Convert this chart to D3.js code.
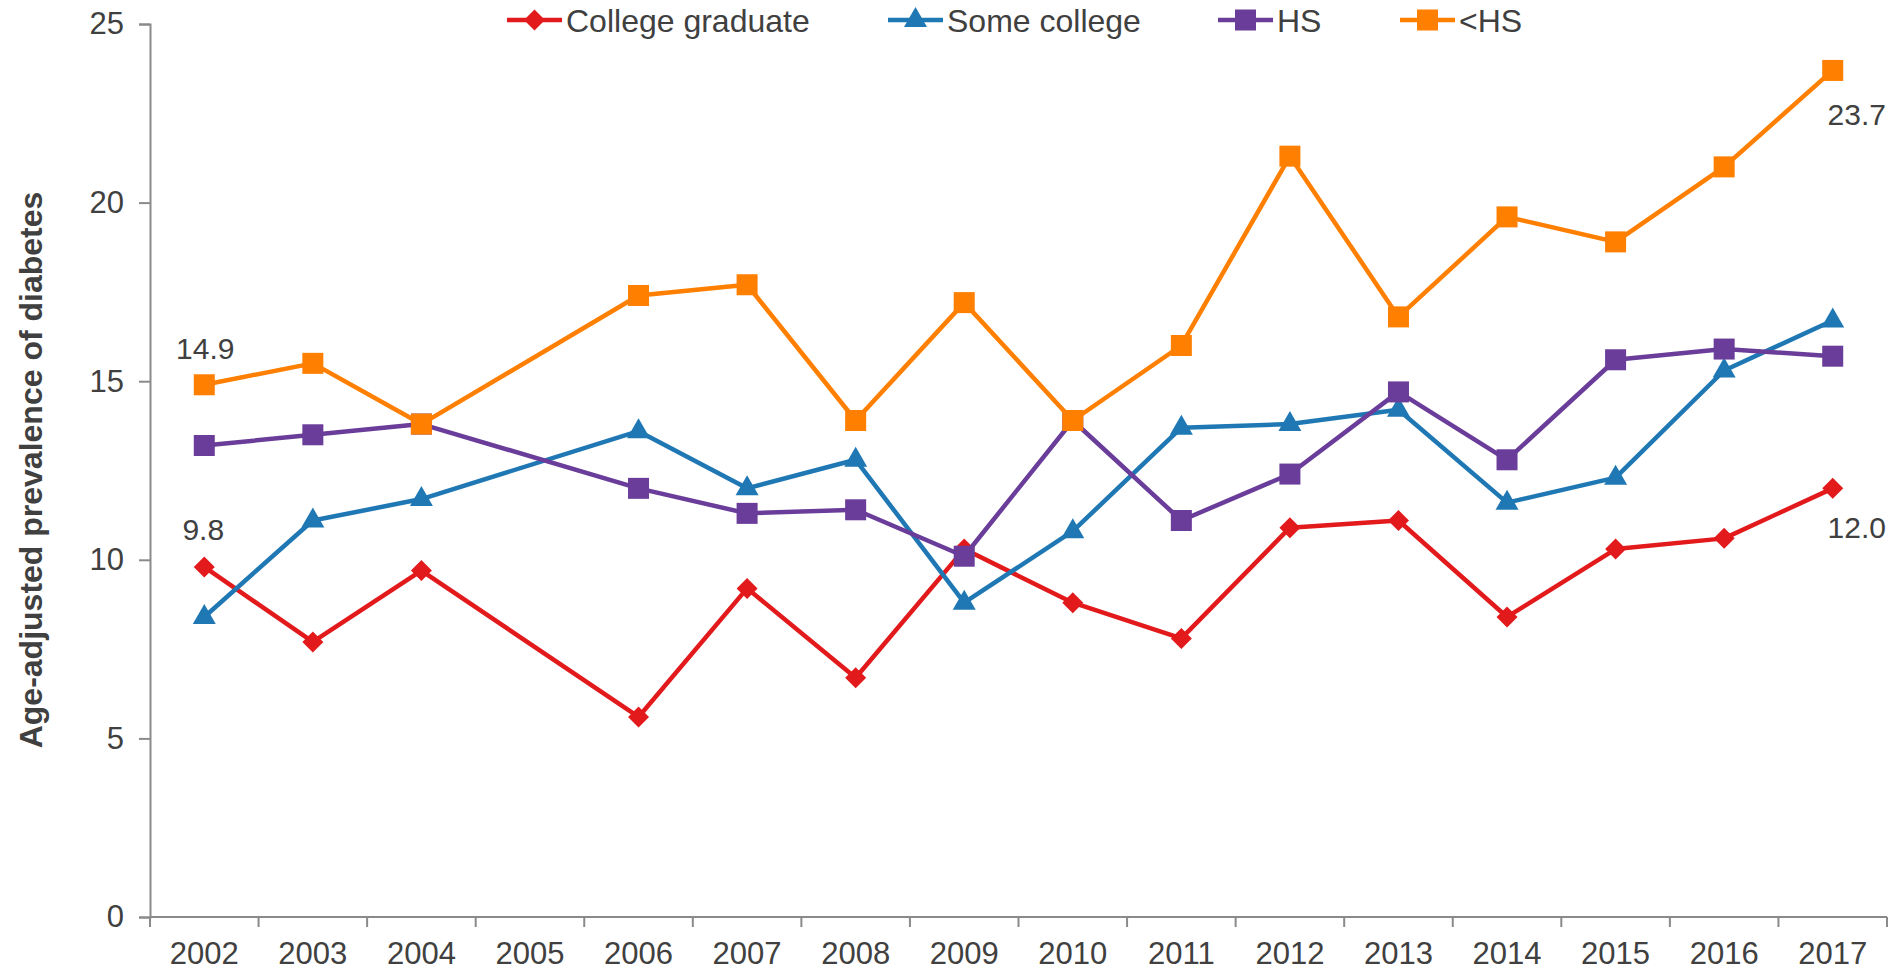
<!DOCTYPE html>
<html>
<head>
<meta charset="utf-8">
<script src="https://cdn.jsdelivr.net/npm/d3@7"></script>
<style>
  html, body { margin: 0; padding: 0; background: #fff; }
  svg { display: block; }
  text { font-family: "Liberation Sans", Arial, sans-serif; fill: #404040; }
</style>
</head>
<body>
<svg id="chart" width="1890" height="970"></svg>
<script>
// Survey years (2005 has no estimates)
const years = ["2002","2003","2004","2005","2006","2007","2008","2009","2010","2011","2012","2013","2014","2015","2016","2017"];

// Age-adjusted prevalence of diabetes (%) by education level
const collegeGraduate = [9.8, 7.7, 9.7, null, 5.6, 9.2, 6.7, 10.3, 8.8, 7.8, 10.9, 11.1, 8.4, 10.3, 10.6, 12.0];
const someCollege     = [8.4, 11.1, 11.7, null, 13.6, 12.0, 12.8, 8.8, 10.8, 13.7, 13.8, 14.2, 11.6, 12.3, 15.3, 16.7];
const highSchool      = [13.2, 13.5, 13.8, null, 12.0, 11.3, 11.4, 10.1, 13.9, 11.1, 12.4, 14.7, 12.8, 15.6, 15.9, 15.7];
const lessThanHS      = [14.9, 15.5, 13.8, null, 17.4, 17.7, 13.9, 17.2, 13.9, 16.0, 21.3, 16.8, 19.6, 18.9, 21.0, 23.7];

const seriesNames = ["College graduate", "Some college", "HS", "<HS"];
const yTicks = [0, 5, 10, 15, 20, 25];

const series = [
  { name: seriesNames[0], values: collegeGraduate, color: "#E31A1C", shape: "diamond" },
  { name: seriesNames[1], values: someCollege,     color: "#1F78B4", shape: "triangle" },
  { name: seriesNames[2], values: highSchool,      color: "#6A3D9A", shape: "square" },
  { name: seriesNames[3], values: lessThanHS,      color: "#FF7F00", shape: "square" }
];

const svg = d3.select("#chart");
const plotLeft = 150, plotRight = 1887, plotTop = 24, plotBottom = 917;

const x = d3.scaleBand().domain(years).range([plotLeft, plotRight]).padding(0);
const y = d3.scaleLinear().domain([0, 25]).range([plotBottom, plotTop]);
const cx = yr => x(yr) + x.bandwidth() / 2;

const axisColor = "#8a8a8a";

// Y axis
const yAxis = svg.append("g")
  .attr("transform", `translate(${plotLeft},0)`)
  .call(d3.axisLeft(y).tickValues(yTicks).tickSize(11).tickPadding(15).tickFormat(d3.format("d")));
yAxis.select(".domain").attr("stroke", axisColor).attr("stroke-width", 2);
yAxis.selectAll(".tick line").attr("stroke", axisColor).attr("stroke-width", 2);
yAxis.selectAll(".tick text")
  .style("font-family", '"Liberation Sans", Arial, sans-serif')
  .style("font-size", "31px").attr("fill", "#404040");

// X axis: ticks on category boundaries
const xAxisG = svg.append("g").attr("transform", `translate(0,${plotBottom})`);
xAxisG.append("line")
  .attr("x1", plotLeft).attr("x2", plotRight).attr("y1", 0).attr("y2", 0)
  .attr("stroke", axisColor).attr("stroke-width", 2);
const boundaries = years.map(d => x(d)).concat([plotRight]);
xAxisG.selectAll("line.bt").data(boundaries).join("line")
  .attr("class", "bt")
  .attr("x1", d => d).attr("x2", d => d).attr("y1", 0).attr("y2", 10)
  .attr("stroke", axisColor).attr("stroke-width", 2);
xAxisG.selectAll("text.yl").data(years).join("text")
  .attr("class", "yl")
  .attr("x", d => cx(d)).attr("y", 47)
  .attr("text-anchor", "middle")
  .style("font-size", "31px")
  .text(d => d);

// Y axis title
svg.append("text")
  .attr("transform", `translate(42,470) rotate(-90)`)
  .attr("text-anchor", "middle")
  .style("font-size", "32px").style("font-weight", "bold")
  .text("Age-adjusted prevalence of diabetes");

// Marker shapes
function marker(sel, shape, color) {
  if (shape === "square") {
    sel.append("rect").attr("x", -10.5).attr("y", -10.5).attr("width", 21).attr("height", 21).attr("fill", color);
  } else if (shape === "diamond") {
    sel.append("path").attr("d", "M0,-10.5 L10.5,0 L0,10.5 L-10.5,0 Z").attr("fill", color);
  } else {
    sel.append("path").attr("d", "M0,-13 L11.5,7 L-11.5,7 Z").attr("fill", color);
  }
}

const line = d3.line().x(d => cx(d.year)).y(d => y(d.value));

series.forEach(s => {
  const pts = years.map((yr, i) => ({ year: yr, value: s.values[i] })).filter(d => d.value != null);
  const g = svg.append("g");
  g.append("path").datum(pts)
    .attr("d", line).attr("fill", "none")
    .attr("stroke", s.color).attr("stroke-width", 4.5).attr("stroke-linejoin", "round");
  g.selectAll("g.pt").data(pts).join("g")
    .attr("class", "pt")
    .attr("transform", d => `translate(${cx(d.year)},${y(d.value)})`)
    .each(function () { marker(d3.select(this), s.shape, s.color); });
});

// Value labels at first and last year
const fmt = d3.format(".1f");
const first = years[0], last = years[years.length - 1];
const labels = [
  { yr: first, v: lessThanHS[0], dx: 1, dy: -26 },
  { yr: first, v: collegeGraduate[0], dx: -1, dy: -27 },
  { yr: last, v: lessThanHS[lessThanHS.length - 1], dx: 24, dy: 55 },
  { yr: last, v: collegeGraduate[collegeGraduate.length - 1], dx: 24, dy: 50 }
];
svg.selectAll("text.vl").data(labels).join("text")
  .attr("class", "vl")
  .attr("x", d => cx(d.yr) + d.dx)
  .attr("y", d => y(d.v) + d.dy)
  .attr("text-anchor", "middle")
  .style("font-size", "30px")
  .text(d => fmt(d.v));

// Legend
const legendX = [507, 888, 1218, 1400];
const legend = svg.append("g");
series.forEach((s, i) => {
  const g = legend.append("g").attr("transform", `translate(${legendX[i]},20)`);
  g.append("line").attr("x1", 0).attr("x2", 55).attr("y1", 0).attr("y2", 0)
    .attr("stroke", s.color).attr("stroke-width", 4.5);
  const m = g.append("g").attr("transform", "translate(27.5,0)");
  marker(m, s.shape, s.color);
  g.append("text").attr("x", 59).attr("y", 12).style("font-size", "32px").text(s.name);
});
</script>
</body>
</html>
